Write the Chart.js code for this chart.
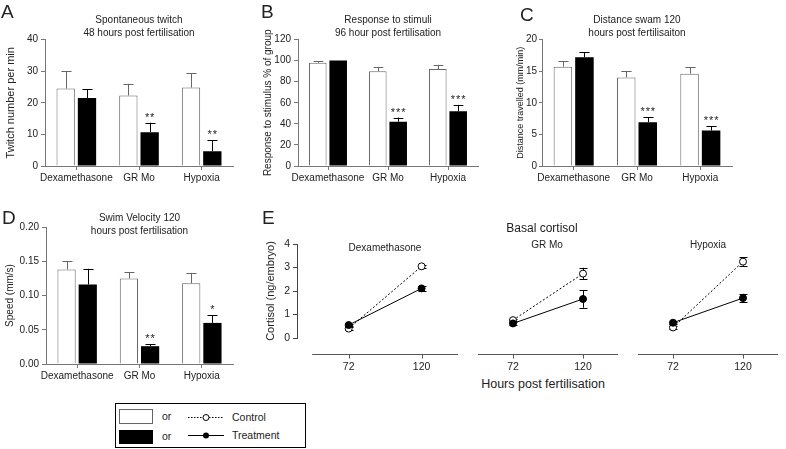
<!DOCTYPE html>
<html lang="en">
<head>
<meta charset="UTF-8" />
<title>Behaviour and cortisol panels</title>
<script src="https://cdn.jsdelivr.net/npm/chart.js@4.4.0/dist/chart.umd.min.js"></script>
<style>
  body { margin: 0; background: #fff; font-family: 'Liberation Sans', Arial, sans-serif; color: #222; }
  #fig { position: relative; width: 786px; height: 449px; overflow: hidden; }
  #fig canvas { position: absolute; }
  .letter { position: absolute; font-size: 19px; line-height: 19px; }
  .lbl { position: absolute; white-space: nowrap; line-height: 1; transform: translate(-50%, -50%); }
  #legend { position: absolute; left: 115px; top: 403px; width: 189px; height: 43px; border: 1px solid #000; }
  #legend .sw { position: absolute; left: 3px; width: 34px; height: 15px; box-sizing: border-box; }
  #legend .ltxt { position: absolute; font-size: 10.5px; line-height: 1; transform: translateY(-50%); white-space: nowrap; }
</style>
</head>
<body>
<div id="fig">
  <canvas id="chartA" width="250" height="190" style="left:0;top:0"></canvas>
  <canvas id="chartB" width="230" height="190" style="left:258px;top:0"></canvas>
  <canvas id="chartC" width="228" height="190" style="left:514px;top:0"></canvas>
  <canvas id="chartD" width="250" height="188" style="left:0;top:200px"></canvas>
  <canvas id="chartE1" width="203" height="138" style="left:260px;top:236px"></canvas>
  <canvas id="chartE2" width="150" height="138" style="left:473px;top:236px"></canvas>
  <canvas id="chartE3" width="150" height="138" style="left:633px;top:236px"></canvas>

  <div class="letter" style="left:1px;top:2px">A</div>
  <div class="letter" style="left:261px;top:2px">B</div>
  <div class="letter" style="left:520px;top:5px">C</div>
  <div class="letter" style="left:2px;top:208px">D</div>
  <div class="letter" style="left:262px;top:208px">E</div>

  <div class="lbl" style="left:542px;top:228px;font-size:12px">Basal cortisol</div>
  <div class="lbl" style="left:385px;top:248px;font-size:10px">Dexamethasone</div>
  <div class="lbl" style="left:547px;top:245px;font-size:10px">GR Mo</div>
  <div class="lbl" style="left:708px;top:245px;font-size:10px">Hypoxia</div>
  <div class="lbl" style="left:543px;top:384px;font-size:12.5px">Hours post fertilisation</div>

  <div id="legend">
    <div class="sw" style="top:5px;background:#fff;border:1px solid #666"></div>
    <div class="sw" style="top:26px;height:14px;background:#000"></div>
    <span class="ltxt" style="left:46px;top:12px">or</span>
    <span class="ltxt" style="left:46px;top:32px">or</span>
    <svg style="position:absolute;left:71px;top:4px" width="38" height="36">
      <line x1="1" y1="9.5" x2="37" y2="9.5" stroke="#000" stroke-width="1" stroke-dasharray="1.5,1.5" />
      <circle cx="19" cy="9.5" r="3" fill="#fff" stroke="#000" stroke-width="1" />
      <line x1="1" y1="27.5" x2="37" y2="27.5" stroke="#000" stroke-width="1" />
      <circle cx="19" cy="27.5" r="3" fill="#000" />
    </svg>
    <span class="ltxt" style="left:116px;top:13px">Control</span>
    <span class="ltxt" style="left:116px;top:31px">Treatment</span>
  </div>
</div>

<script>
  // groups shared by the bar panels
  const groups = ['Dexamethasone', 'GR Mo', 'Hypoxia'];

  // A - spontaneous twitch, 48 hpf
  const twitchCtrl = [24.5, 22.3, 24.8];
  const twitchCtrlErr = [5.4, 3.7, 4.5];
  const twitchTreat = [21.5, 10.7, 4.7];
  const twitchTreatErr = [2.8, 3.0, 3.4];
  const twitchStars = ['', '**', '**'];

  // B - response to stimuli, 96 hpf
  const responseCtrl = [98, 90, 92];
  const responseCtrlErr = [1.5, 4, 4];
  const responseTreat = [100, 42, 52];
  const responseTreatErr = [0, 4, 6];
  const responseStars = ['', '***', '***'];

  // C - distance swam, 120 hpf
  const distanceCtrl = [15.7, 14.0, 14.6];
  const distanceCtrlErr = [0.9, 1.0, 1.0];
  const distanceTreat = [17.2, 6.9, 5.6];
  const distanceTreatErr = [0.8, 0.8, 0.7];
  const distanceStars = ['', '***', '***'];

  // D - swim velocity, 120 hpf
  const speedCtrl = [0.138, 0.125, 0.118];
  const speedCtrlErr = [0.012, 0.009, 0.015];
  const speedTreat = [0.116, 0.026, 0.060];
  const speedTreatErr = [0.023, 0.003, 0.011];
  const speedStars = ['', '**', '*'];

  // E - basal cortisol
  const hours = [72, 120];
  const dexCtrl = [0.40, 3.05];
  const dexCtrlErr = [0.05, 0.06];
  const dexTreat = [0.55, 2.11];
  const dexTreatErr = [0.05, 0.10];
  const grCtrl = [0.76, 2.74];
  const grCtrlErr = [0.05, 0.25];
  const grTreat = [0.62, 1.66];
  const grTreatErr = [0.05, 0.37];
  const hypCtrl = [0.45, 3.25];
  const hypCtrlErr = [0.05, 0.18];
  const hypTreat = [0.65, 1.70];
  const hypTreatErr = [0.05, 0.18];
  const cortisolTicks = [0, 1, 2, 3, 4];

  Chart.defaults.font.family = "'Liberation Sans', Arial, sans-serif";
  Chart.defaults.color = '#222';
  Chart.defaults.animation = false;

  // SEM bars: upwards only for bars, both ways for the cortisol points
  const errorBars = {
    id: 'errorBars',
    beforeDatasetsDraw(chart) {
      const ctx = chart.ctx;
      const ys = chart.scales.y;
      chart.data.datasets.forEach((ds, i) => {
        if (!ds.err) return;
        chart.getDatasetMeta(i).data.forEach((el, j) => {
          const raw = ds.data[j];
          const v = typeof raw === 'object' ? raw.y : raw;
          const e = ds.err[j];
          if (!e) return;
          const x = Math.round(el.x) + 0.5;
          const top = ys.getPixelForValue(v + e);
          const bot = ds.errBoth ? ys.getPixelForValue(v - e) : ys.getPixelForValue(v);
          const half = (ds.capWidth || el.width * 0.55) / 2;
          ctx.save();
          ctx.strokeStyle = ds.errColor || '#000';
          ctx.lineWidth = 1;
          ctx.beginPath();
          ctx.moveTo(x, top); ctx.lineTo(x, bot);
          ctx.moveTo(x - half, Math.round(top) + 0.5); ctx.lineTo(x + half, Math.round(top) + 0.5);
          if (ds.errBoth) { ctx.moveTo(x - half, Math.round(bot) + 0.5); ctx.lineTo(x + half, Math.round(bot) + 0.5); }
          ctx.stroke();
          ctx.restore();
        });
      });
    }
  };

  // significance stars above the SEM bar
  const starMarks = {
    id: 'starMarks',
    afterDatasetsDraw(chart) {
      const ctx = chart.ctx;
      const ys = chart.scales.y;
      chart.data.datasets.forEach((ds, i) => {
        if (!ds.stars) return;
        chart.getDatasetMeta(i).data.forEach((el, j) => {
          if (!ds.stars[j]) return;
          const top = ys.getPixelForValue(ds.data[j] + (ds.err ? ds.err[j] : 0));
          ctx.save();
          ctx.font = "11px 'Liberation Sans', Arial, sans-serif";
          ctx.fillStyle = '#222';
          ctx.textAlign = 'center';
          ctx.textBaseline = 'alphabetic';
          ctx.fillText(ds.stars[j].split('').join('\u200a'), el.x, top - 2);
          ctx.restore();
        });
      });
    }
  };

  Chart.register(errorBars, starMarks);

  // the offset x axis line used in panel E (Prism style, detached from the y axis)
  function axisLine(lo, hi, gap) {
    return {
      id: 'axisLine',
      afterDraw(chart) {
        const ctx = chart.ctx;
        const xs = chart.scales.x;
        const y = Math.round(chart.chartArea.bottom + gap) + 0.5;
        ctx.save();
        ctx.setLineDash([]);
        ctx.strokeStyle = '#555';
        ctx.lineWidth = 1;
        ctx.beginPath();
        ctx.moveTo(xs.getPixelForValue(lo), y);
        ctx.lineTo(xs.getPixelForValue(hi), y);
        xs.ticks.forEach(t => {
          const px = Math.round(xs.getPixelForValue(t.value)) + 0.5;
          ctx.moveTo(px, y);
          ctx.lineTo(px, y + 4);
        });
        ctx.stroke();
        ctx.restore();
      }
    };
  }

  function barPanel(id, p) {
    return new Chart(document.getElementById(id), {
      type: 'bar',
      data: {
        labels: groups,
        datasets: [
          { label: 'Control', data: p.ctrl, err: p.ctrlErr, errColor: '#666',
            backgroundColor: '#fff', borderColor: '#666', borderWidth: 1 },
          { label: 'Treatment', data: p.treat, err: p.treatErr, stars: p.stars, errColor: '#000',
            backgroundColor: '#000', borderColor: '#000', borderWidth: 0 }
        ]
      },
      options: {
        responsive: false,
        datasets: { bar: { categoryPercentage: 0.68, barPercentage: 0.86 } },
        layout: { padding: { right: p.padRight, top: 0, bottom: 0, left: 0 } },
        plugins: {
          legend: { display: false },
          tooltip: { enabled: false },
          title: {
            display: true, text: p.title, fullSize: false, color: '#222',
            font: { size: 10, weight: 'normal', lineHeight: 1.3 },
            padding: p.titlePad
          }
        },
        scales: {
          x: {
            grid: { offset: false, drawOnChartArea: false, tickLength: 4, color: '#777' },
            border: { color: '#777' },
            ticks: { font: { size: 10 }, maxRotation: 0, autoSkip: false, padding: 2 },
            afterFit: s => { s.height = 24; }
          },
          y: {
            min: 0, max: p.yMax,
            grid: { drawOnChartArea: false, tickLength: p.tickLen || 4, color: '#777' },
            border: { color: '#777' },
            ticks: { stepSize: p.yStep, font: { size: 10 }, padding: p.tickPad || 3, callback: p.fmt || (v => v) },
            title: { display: true, text: p.yTitle, font: { size: p.yTitleSize }, padding: { top: p.yTitleGap || 4, bottom: 0 } },
            afterFit: s => { s.width = p.yWidth; }
          }
        }
      }
    });
  }

  barPanel('chartA', {
    title: ['Spontaneous twitch', '48 hours post fertilisation'], yTitle: 'Twitch number per min', yTitleSize: 11,
    ctrl: twitchCtrl, ctrlErr: twitchCtrlErr, treat: twitchTreat, treatErr: twitchTreatErr, stars: twitchStars,
    yMax: 40, yStep: 10, yWidth: 45, padRight: 17, titlePad: { top: 13.5, bottom: 0 }
  });
  barPanel('chartB', {
    title: ['Response to stimuli', '96 hour post fertilisation'], yTitle: 'Response to stimulus % of group', yTitleSize: 10,
    ctrl: responseCtrl, ctrlErr: responseCtrlErr, treat: responseTreat, treatErr: responseTreatErr, stars: responseStars,
    yMax: 120, yStep: 20, yWidth: 40, padRight: 10, titlePad: { top: 13.5, bottom: 0 }
  });
  barPanel('chartC', {
    title: ['Distance swam 120', 'hours post fertilisaiton'], yTitle: 'Distance travelled (mm/min)', yTitleSize: 9,
    ctrl: distanceCtrl, ctrlErr: distanceCtrlErr, treat: distanceTreat, treatErr: distanceTreatErr, stars: distanceStars,
    yMax: 20, yStep: 5, yWidth: 28, padRight: 10, titlePad: { top: 13.5, bottom: 0 },
    tickLen: 3, tickPad: 2, yTitleGap: 1
  });
  barPanel('chartD', {
    title: ['Swim Velocity 120', 'hours post fertilisation'], yTitle: 'Speed (mm/s)', yTitleSize: 10,
    ctrl: speedCtrl, ctrlErr: speedCtrlErr, treat: speedTreat, treatErr: speedTreatErr, stars: speedStars,
    yMax: 0.2, yStep: 0.05, yWidth: 46, padRight: 17, titlePad: { top: 11.5, bottom: -10.5 },
    fmt: v => v.toFixed(2)
  });

  function cortisolPanel(id, ctrl, ctrlErr, treat, treatErr, showY, xMin) {
    const pts = vals => hours.map((h, i) => ({ x: h, y: vals[i] }));
    return new Chart(document.getElementById(id), {
      type: 'line',
      data: {
        datasets: [
          { label: 'Treatment', data: pts(treat), err: treatErr, errBoth: true, capWidth: 8,
            borderColor: '#000', borderWidth: 1, pointRadius: 3.5, pointBorderWidth: 1,
            pointBackgroundColor: '#000', pointBorderColor: '#000' },
          { label: 'Control', data: pts(ctrl), err: ctrlErr, errBoth: true, capWidth: 8,
            borderColor: '#000', borderWidth: 1, borderDash: [2, 2], pointRadius: 3.5, pointBorderWidth: 1,
            pointBackgroundColor: '#fff', pointBorderColor: '#000' }
        ]
      },
      plugins: [axisLine(48, 144, 16)],
      options: {
        responsive: false,
        layout: { padding: { top: 8, left: 0, right: 0, bottom: 0 } },
        plugins: {
          legend: { display: false },
          tooltip: { enabled: false }
        },
        scales: {
          x: {
            type: 'linear', min: xMin, max: 144,
            grid: { display: false }, border: { display: false },
            afterBuildTicks: s => { s.ticks = hours.map(v => ({ value: v })); },
            ticks: { font: { size: 10.5 }, padding: 15, maxRotation: 0 },
            afterFit: s => { s.height = 36; s.paddingLeft = 0; s.paddingRight = 0; }
          },
          y: {
            display: showY, min: 0, max: 4,
            afterBuildTicks: s => { s.ticks = cortisolTicks.map(v => ({ value: v })); },
            grid: { drawOnChartArea: false, tickLength: 4, color: '#444' },
            border: { color: '#444' },
            ticks: { font: { size: 10.5 }, padding: 3 },
            title: { display: true, text: 'Cortisol (ng/embryo)', font: { size: 11 }, padding: { top: 4, bottom: 0 } },
            afterFit: s => { s.width = showY ? 37 : 0; s.paddingTop = 0; s.paddingBottom = 0; }
          }
        }
      }
    });
  }

  cortisolPanel('chartE1', dexCtrl, dexCtrlErr, dexTreat, dexTreatErr, true, 38);
  cortisolPanel('chartE2', grCtrl, grCtrlErr, grTreat, grTreatErr, false, 48);
  cortisolPanel('chartE3', hypCtrl, hypCtrlErr, hypTreat, hypTreatErr, false, 48);
</script>
</body>
</html>
